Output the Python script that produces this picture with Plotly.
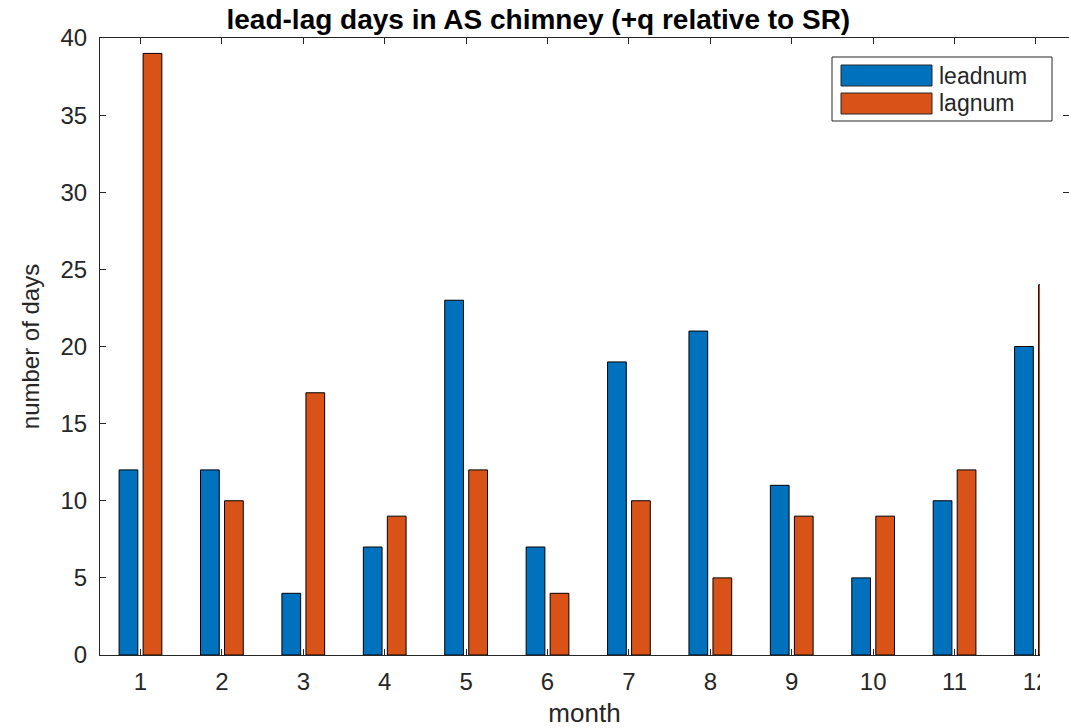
import plotly.graph_objects as go

# Monthly counts of lead / lag days
months = list(range(1, 13))
month_labels = [str(m) for m in months]
leadnum = [12, 12, 4, 7, 23, 7, 19, 21, 11, 5, 10, 20]
lagnum = [39, 10, 17, 9, 12, 4, 10, 5, 9, 9, 12, 24]
y_ticks = [0, 5, 10, 15, 20, 25, 30, 35, 40]

LEAD_COLOR = "#0072BD"
LAG_COLOR = "#D95319"
INK = "#262626"
FONT = "Liberation Sans, Arial, sans-serif"

W, H = 1069, 728
ML, MT, MB, MR = 100, 38, 73, 0
plot_w = W - ML - MR
plot_h = H - MT - MB


def px_x(p):
    return (p - ML) / plot_w


def px_y(p):
    return (H - MB - p) / plot_h


fig = go.Figure()
fig.add_trace(go.Bar(x=months, y=leadnum, name="leadnum",
                     marker=dict(color=LEAD_COLOR, line=dict(color="black", width=1))))
fig.add_trace(go.Bar(x=months, y=lagnum, name="lagnum",
                     marker=dict(color=LAG_COLOR, line=dict(color="black", width=1))))

shapes = []
annotations = []

# hand-drawn legend box with wide swatches
shapes.append(dict(type="rect", xref="paper", yref="paper",
                   x0=px_x(832), x1=px_x(1052), y0=px_y(121), y1=px_y(57),
                   line=dict(color=INK, width=1), fillcolor="white", layer="above"))
for (top, bot, color, label) in [(65, 86, LEAD_COLOR, "leadnum"), (93, 114, LAG_COLOR, "lagnum")]:
    shapes.append(dict(type="rect", xref="paper", yref="paper",
                       x0=px_x(841), x1=px_x(932), y0=px_y(bot), y1=px_y(top),
                       line=dict(color=INK, width=1), fillcolor=color, layer="above"))
    annotations.append(dict(xref="paper", yref="paper", x=px_x(937), y=px_y((top + bot) / 2),
                            text=label, showarrow=False, xanchor="left", yanchor="middle",
                            font=dict(family=FONT, size=23, color=INK)))

# blank strip along the right edge of the figure
shapes.append(dict(type="rect", xref="paper", yref="paper",
                   x0=px_x(1040), x1=1.05, y0=px_y(740), y1=px_y(200),
                   line=dict(width=0), fillcolor="white", layer="above"))

fig.update_layout(
    width=W, height=H,
    margin=dict(l=ML, r=MR, t=MT, b=MB, pad=0),
    paper_bgcolor="white", plot_bgcolor="white",
    barmode="group", bargap=0.41, bargroupgap=0.22,
    showlegend=False,
    shapes=shapes, annotations=annotations,
    title=dict(text="<b>lead-lag days in AS chimney (+q relative to SR)</b>",
               x=px_x(588), xanchor="center", y=1 - 19 / H, yanchor="middle",
               font=dict(family=FONT, size=28, color="black")),
    font=dict(family=FONT, color=INK),
)

x0 = 1 - 40.5 / 81.45
x1 = 1 + (W - 140) / 81.45
fig.update_xaxes(range=[x0, x1], tickmode="array", tickvals=months, ticktext=month_labels,
                 ticks="inside", ticklen=6, tickcolor=INK, showline=True, linecolor=INK,
                 linewidth=1, mirror="ticks", showgrid=False, zeroline=False,
                 ticklabelstandoff=5,
                 tickfont=dict(family=FONT, size=24, color=INK),
                 title=dict(text="month", font=dict(family=FONT, size=26, color=INK), standoff=14))
fig.update_yaxes(range=[0, 40], tickmode="array", tickvals=y_ticks,
                 ticks="inside", ticklen=6, tickcolor=INK, showline=True, linecolor=INK,
                 linewidth=1, mirror="ticks", showgrid=False, zeroline=False,
                 ticklabelstandoff=7,
                 tickfont=dict(family=FONT, size=24, color=INK),
                 title=dict(text="number of days", font=dict(family=FONT, size=24, color=INK), standoff=14))

fig.write_html("out.html")
